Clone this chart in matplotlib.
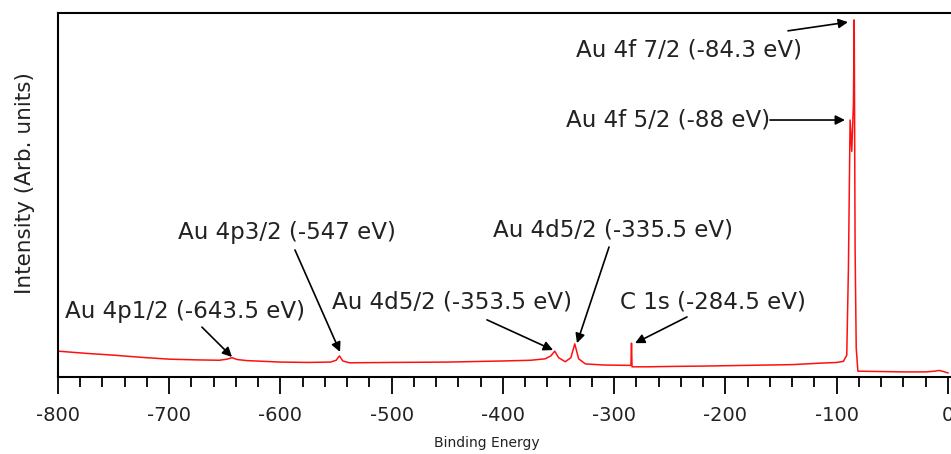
import matplotlib.pyplot as plt
from matplotlib.ticker import MultipleLocator

plt.rcParams['axes.unicode_minus'] = False

# XPS survey spectrum of gold (binding energy in eV, intensity in arbitrary units)
energy = [-800, -775, -750, -725, -700, -675, -655, -648, -643.5, -639, -630,
          -600, -575, -555, -550, -547, -544, -538, -500, -450, -400, -375,
          -362, -357, -353.5, -350, -344, -339, -335.5, -332, -326, -310,
          -290, -285, -284.5, -284, -270, -250, -220, -180, -140, -115, -100,
          -94, -91, -89.5, -88, -86.5, -85, -84.3, -83.5, -82.5, -81,
          -60, -40, -20, -12, -8, -4, 0]
intensity = [7.1, 6.5, 6.0, 5.4, 4.9, 4.7, 4.6, 4.9, 5.3, 4.8, 4.5,
             4.1, 4.0, 4.1, 4.6, 5.8, 4.4, 3.9, 4.0, 4.1, 4.4, 4.6,
             5.0, 5.8, 7.1, 5.3, 4.2, 5.3, 9.1, 5.0, 3.6, 3.3,
             3.2, 3.2, 9.3, 2.8, 2.8, 2.9, 3.0, 3.2, 3.4, 3.8, 4.0,
             4.3, 6.0, 30, 70.6, 62, 75, 98.1, 35, 8, 1.6,
             1.5, 1.4, 1.4, 1.6, 1.8, 1.5, 1.1]

# peak labels: text, text anchor (x, y), arrow tail, arrow head, alignment
labels = ['Au 4f 7/2 (-84.3 eV)', 'Au 4f 5/2 (-88 eV)', 'Au 4p3/2 (-547 eV)',
          'Au 4p1/2 (-643.5 eV)', 'Au 4d5/2 (-335.5 eV)',
          'Au 4d5/2 (-353.5 eV)', 'C 1s (-284.5 eV)']
text_pos = [(-334.4, 89.8), (-160, 70.6), (-692.1, 39.6), (-793.7, 17.9),
            (-409, 40.4), (-553.7, 20.6), (-294.8, 20.6)]
text_ha = ['left', 'right', 'left', 'left', 'left', 'left', 'left']
arrow_tail = [(-143.8, 95.1), (-160, 70.6), (-587, 34.9), (-670.6, 13.7),
              (-304.7, 35.7), (-414.4, 15.7), (-234.6, 16.5)]
arrow_head = [(-89.9, 97.5), (-92.6, 70.6), (-546.5, 6.9), (-643.6, 5.5),
              (-333.5, 9.3), (-355, 7.4), (-281.3, 9.3)]

fig = plt.figure(figsize=(9.51, 4.54), dpi=100)
ax = fig.add_axes([58 / 951, 1 - 377 / 454, 1 - 58 / 951, 364 / 454])

ax.plot(energy, intensity, color='#ff1010', lw=1.1)

for txt, pos, ha, tail, head in zip(labels, text_pos, text_ha, arrow_tail, arrow_head):
    ax.text(pos[0], pos[1], txt, ha=ha, va='center', fontsize=16.6, color='#222222')
    ax.annotate('', xy=head, xytext=tail,
                arrowprops=dict(arrowstyle='-|>', color='black', lw=1.2,
                                mutation_scale=14, shrinkA=0, shrinkB=0))

ax.set_xlim(-800, 2.7)
ax.set_ylim(0, 100)
ax.spines['right'].set_visible(False)
for s in ['left', 'top', 'bottom']:
    ax.spines[s].set_linewidth(1.5)

ax.xaxis.set_major_locator(MultipleLocator(100))
ax.xaxis.set_minor_locator(MultipleLocator(20))
ax.tick_params(axis='x', which='major', direction='out', length=12, width=1.3,
               labelsize=14, pad=9, labelcolor='#222222')
ax.tick_params(axis='x', which='minor', direction='out', length=7, width=1.3)
ax.set_yticks([])

fig.text(487 / 951, 1 - 443 / 454, 'Binding Energy', ha='center', va='center',
         fontsize=10, color='#222222')
fig.text(25 / 951, 1 - 183 / 454, 'Intensity (Arb. units)', rotation=90,
         ha='center', va='center', fontsize=15.5, color='#222222')

fig.savefig('out.png', dpi=100)
